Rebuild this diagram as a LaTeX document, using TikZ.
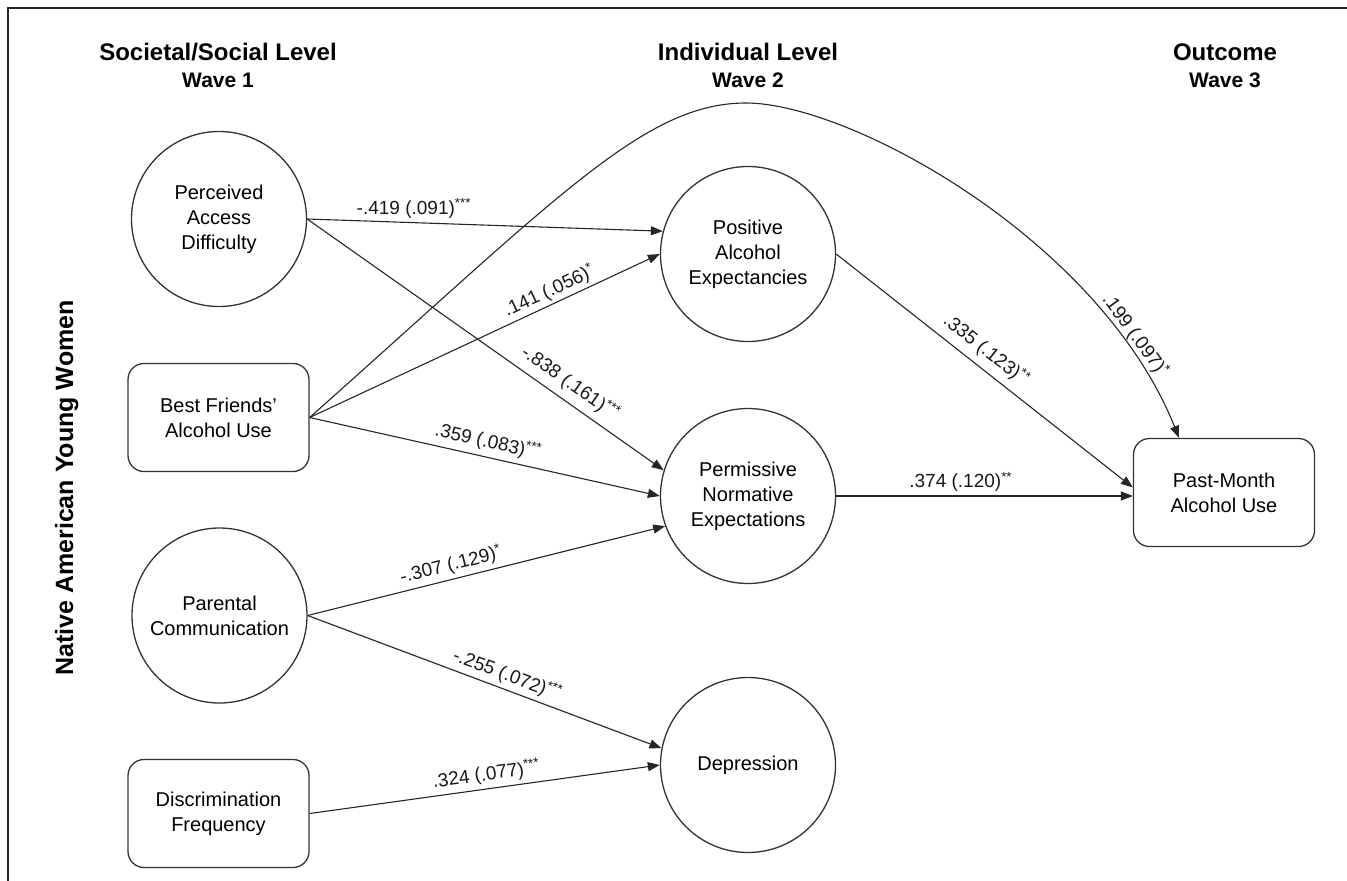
\documentclass[tikz,border=0pt]{standalone}
\usepackage{fontspec}
\setmainfont{Liberation Sans}
\usetikzlibrary{arrows.meta}
\newcommand\ndfont{\fontsize{20}{25}\selectfont}
\newcommand\cffont{\fontsize{19}{22}\selectfont}
\newcommand\hdfont{\bfseries\fontsize{24}{24}\selectfont}
\newcommand\wvfont{\bfseries\fontsize{21}{21}\selectfont}
\newcommand\sdfont{\bfseries\fontsize{25}{25}\selectfont}
\newcommand\stars[1]{\textsuperscript{#1}}
\begin{document}
\begin{tikzpicture}[x=1pt,y=-1pt,
  lat/.style={circle, draw=black!80, line width=1.3pt, minimum size=175pt, inner sep=0pt, align=center, font=\ndfont},
  obs/.style={rectangle, rounded corners=16pt, draw=black!80, line width=1.3pt, minimum width=181pt, minimum height=108pt, inner sep=0pt, align=center, font=\ndfont},
  arr/.style={draw=black!85, line width=1.1pt, -{Triangle[length=12pt,width=9pt]}},
  coef/.style={font=\cffont, inner sep=1pt, text=black!90},
  hdr/.style={font=\hdfont, anchor=base, inner sep=0pt},
  wv/.style={font=\wvfont, anchor=base, inner sep=0pt},
  side/.style={font=\sdfont, anchor=base, inner sep=0pt, rotate=90}]
\useasboundingbox (0,0) rectangle (1347,881);
\fill[white] (0,0) rectangle (1347,881);
\draw[line width=2.5pt, black!85] (8,890) -- (8,8) -- (1355,8);

% headers
\node[hdr] (h1) at (218,60) {Societal/Social Level};
\node[wv] (w1) at (218,87) {Wave 1};
\node[hdr] (h2) at (748,60) {Individual Level};
\node[wv] (w2) at (748,87) {Wave 2};
\node[hdr] (h3) at (1225,60) {Outcome};
\node[wv] (w3) at (1225,87) {Wave 3};
\node[side] (nay) at (73,488) {Native American Young Women};

% nodes
\node[lat] (pad) at (219,219) {Perceived\\Access\\Difficulty};
\node[obs] (bf) at (218.5,417.5) {Best Friends’\\Alcohol Use};
\node[lat] (pc) at (219.5,615.5) {Parental\\Communication};
\node[obs] (df) at (218.5,813.5) {Discrimination\\Frequency};
\node[lat] (pos) at (748,254) {Positive\\Alcohol\\Expectancies};
\node[lat] (perm) at (748,496) {Permissive\\Normative\\Expectations};
\node[lat] (dep) at (748,765) {Depression};
\node[obs] (pm) at (1224,492.5) {Past-Month\\Alcohol Use};

% paths
\draw[arr] (pad.east) -- node[coef, above=3pt, pos=0.3] {-.419 (.091)\stars{***}} (pos.165);
\draw[arr] (bf.east) -- node[coef, sloped, above=2pt, pos=0.7] {.141 (.056)\stars{*}} (pos.180);
\draw[arr] (pad.east) -- node[coef, sloped, above=6pt, pos=0.71] {-.838 (.161)\stars{***}} (perm.163);
\draw[arr] (bf.east) -- node[coef, sloped, above=4pt, pos=0.5] {.359 (.083)\stars{***}} (perm.180);
\draw[arr] (pc.east) -- node[coef, sloped, above=3pt, pos=0.41] {-.307 (.129)\stars{*}} (perm.200);
\draw[arr] (pc.east) -- node[coef, sloped, above=3pt, pos=0.55] {-.255 (.072)\stars{***}} (dep.169);
\draw[arr] (df.east) -- node[coef, sloped, above=3pt, pos=0.51] {.324 (.077)\stars{***}} (dep.180);
\draw[arr] (pos.east) -- node[coef, sloped, above=6pt, pos=0.47] {.335 (.123)\stars{**}} ([yshift=5pt]pm.west);
\draw[arr] (perm.east) -- node[coef, above=3pt, pos=0.42] {.374 (.120)\stars{**}} (perm.east -| pm.west);
\draw[arr] (bf.east) .. controls (560,195) and (645,103) .. (746,103)
  .. controls (850,103) and (1100,240) .. ([xshift=-45pt]pm.north)
  node[coef, sloped, above=1pt, pos=0.83] {.199 (.097)\stars{*}};
\end{tikzpicture}
\end{document}
